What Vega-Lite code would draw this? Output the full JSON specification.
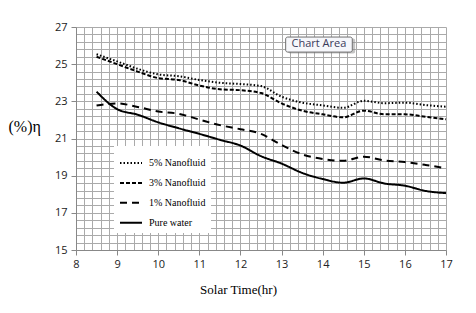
{
  "$schema": "https://vega.github.io/schema/vega-lite/v6.json",
  "width": 370,
  "height": 223,
  "autosize": {"type": "none"},
  "padding": {"left": 76, "top": 27, "right": 30, "bottom": 63},
  "background": "white",
  "config": {"view": {"stroke": null}},
  "resolve": {"axis": {"x": "independent", "y": "independent"}, "scale": {"x": "shared", "y": "shared"}},
  "datasets": {
    "lines": [
      {"t": 8.5, "eta": 25.53, "series": "5% Nanofluid"},
      {"t": 9, "eta": 25.15, "series": "5% Nanofluid"},
      {"t": 9.5, "eta": 24.75, "series": "5% Nanofluid"},
      {"t": 10, "eta": 24.45, "series": "5% Nanofluid"},
      {"t": 10.5, "eta": 24.35, "series": "5% Nanofluid"},
      {"t": 11, "eta": 24.15, "series": "5% Nanofluid"},
      {"t": 11.5, "eta": 24.0, "series": "5% Nanofluid"},
      {"t": 12, "eta": 23.93, "series": "5% Nanofluid"},
      {"t": 12.5, "eta": 23.82, "series": "5% Nanofluid"},
      {"t": 13, "eta": 23.25, "series": "5% Nanofluid"},
      {"t": 13.5, "eta": 22.93, "series": "5% Nanofluid"},
      {"t": 14, "eta": 22.78, "series": "5% Nanofluid"},
      {"t": 14.5, "eta": 22.65, "series": "5% Nanofluid"},
      {"t": 15, "eta": 23.03, "series": "5% Nanofluid"},
      {"t": 15.5, "eta": 22.9, "series": "5% Nanofluid"},
      {"t": 16, "eta": 22.93, "series": "5% Nanofluid"},
      {"t": 16.5, "eta": 22.8, "series": "5% Nanofluid"},
      {"t": 17, "eta": 22.71, "series": "5% Nanofluid"},

      {"t": 8.5, "eta": 25.4, "series": "3% Nanofluid"},
      {"t": 9, "eta": 25.0, "series": "3% Nanofluid"},
      {"t": 9.5, "eta": 24.6, "series": "3% Nanofluid"},
      {"t": 10, "eta": 24.25, "series": "3% Nanofluid"},
      {"t": 10.5, "eta": 24.15, "series": "3% Nanofluid"},
      {"t": 11, "eta": 23.85, "series": "3% Nanofluid"},
      {"t": 11.5, "eta": 23.65, "series": "3% Nanofluid"},
      {"t": 12, "eta": 23.6, "series": "3% Nanofluid"},
      {"t": 12.5, "eta": 23.45, "series": "3% Nanofluid"},
      {"t": 13, "eta": 22.89, "series": "3% Nanofluid"},
      {"t": 13.5, "eta": 22.5, "series": "3% Nanofluid"},
      {"t": 14, "eta": 22.3, "series": "3% Nanofluid"},
      {"t": 14.5, "eta": 22.14, "series": "3% Nanofluid"},
      {"t": 15, "eta": 22.5, "series": "3% Nanofluid"},
      {"t": 15.5, "eta": 22.3, "series": "3% Nanofluid"},
      {"t": 16, "eta": 22.3, "series": "3% Nanofluid"},
      {"t": 16.5, "eta": 22.17, "series": "3% Nanofluid"},
      {"t": 17, "eta": 22.03, "series": "3% Nanofluid"},

      {"t": 8.5, "eta": 22.77, "series": "1% Nanofluid"},
      {"t": 9, "eta": 22.89, "series": "1% Nanofluid"},
      {"t": 9.5, "eta": 22.7, "series": "1% Nanofluid"},
      {"t": 10, "eta": 22.45, "series": "1% Nanofluid"},
      {"t": 10.5, "eta": 22.33, "series": "1% Nanofluid"},
      {"t": 11, "eta": 22.02, "series": "1% Nanofluid"},
      {"t": 11.5, "eta": 21.72, "series": "1% Nanofluid"},
      {"t": 12, "eta": 21.5, "series": "1% Nanofluid"},
      {"t": 12.5, "eta": 21.25, "series": "1% Nanofluid"},
      {"t": 13, "eta": 20.65, "series": "1% Nanofluid"},
      {"t": 13.5, "eta": 20.15, "series": "1% Nanofluid"},
      {"t": 14, "eta": 19.9, "series": "1% Nanofluid"},
      {"t": 14.5, "eta": 19.8, "series": "1% Nanofluid"},
      {"t": 15, "eta": 20.02, "series": "1% Nanofluid"},
      {"t": 15.5, "eta": 19.82, "series": "1% Nanofluid"},
      {"t": 16, "eta": 19.73, "series": "1% Nanofluid"},
      {"t": 16.5, "eta": 19.58, "series": "1% Nanofluid"},
      {"t": 17, "eta": 19.4, "series": "1% Nanofluid"},

      {"t": 8.5, "eta": 23.52, "series": "Pure water"},
      {"t": 9, "eta": 22.58, "series": "Pure water"},
      {"t": 9.5, "eta": 22.28, "series": "Pure water"},
      {"t": 10, "eta": 21.87, "series": "Pure water"},
      {"t": 10.5, "eta": 21.55, "series": "Pure water"},
      {"t": 11, "eta": 21.25, "series": "Pure water"},
      {"t": 11.5, "eta": 20.93, "series": "Pure water"},
      {"t": 12, "eta": 20.62, "series": "Pure water"},
      {"t": 12.5, "eta": 20.05, "series": "Pure water"},
      {"t": 13, "eta": 19.65, "series": "Pure water"},
      {"t": 13.5, "eta": 19.15, "series": "Pure water"},
      {"t": 14, "eta": 18.82, "series": "Pure water"},
      {"t": 14.5, "eta": 18.62, "series": "Pure water"},
      {"t": 15, "eta": 18.85, "series": "Pure water"},
      {"t": 15.5, "eta": 18.58, "series": "Pure water"},
      {"t": 16, "eta": 18.46, "series": "Pure water"},
      {"t": 16.5, "eta": 18.18, "series": "Pure water"},
      {"t": 17, "eta": 18.06, "series": "Pure water"}
    ],
    "annot": [{"label": "Chart Area"}]
  },
  "layer": [
    {
      "data": {"name": "lines"},
      "mark": {"type": "line", "interpolate": "monotone", "strokeWidth": 2, "color": "black"},
      "encoding": {
        "x": {
          "field": "t", "type": "quantitative",
          "scale": {"domain": [8, 17], "nice": false, "zero": false},
          "axis": {
            "title": "Solar Time(hr)",
            "titleFont": "Liberation Serif", "titleFontSize": 13, "titleFontWeight": "normal", "titleColor": "black",
            "titleX": 162, "titleY": 39, "titleAlign": "center", "titleBaseline": "middle",
            "values": [8, 8.2, 8.4, 8.6, 8.8, 9, 9.2, 9.4, 9.6, 9.8, 10, 10.2, 10.4, 10.6, 10.8, 11, 11.2, 11.4, 11.6, 11.8, 12, 12.2, 12.4, 12.6, 12.8, 13, 13.2, 13.4, 13.6, 13.8, 14, 14.2, 14.4, 14.6, 14.8, 15, 15.2, 15.4, 15.6, 15.8, 16, 16.2, 16.4, 16.6, 16.8, 17],
            "labelExpr": "abs(datum.value - round(datum.value)) < 0.01 ? '' + round(datum.value) : ''",
            "labelFont": "Open Sans", "labelFontSize": 11, "labelColor": "#222", "labelPadding": 3,
            "labelOverlap": false, "labelBound": false,
            "tickOpacity": {"condition": {"test": "abs(datum.value - round(datum.value)) < 0.01", "value": 1}, "value": 0},
            "tickSize": 5, "tickColor": "#888",
            "grid": true, "gridColor": "#aaaaaa", "gridWidth": 1,
            "domainColor": "#888", "labelFlush": false
          }
        },
        "y": {
          "field": "eta", "type": "quantitative",
          "scale": {"domain": [15, 27], "nice": false, "zero": false},
          "axis": {
            "title": "(%)η",
            "titleFont": "Liberation Serif", "titleFontSize": 16, "titleFontWeight": "normal", "titleColor": "black",
            "titleAngle": 0, "titleX": -68, "titleY": 99, "titleAlign": "left", "titleBaseline": "middle",
            "values": [15, 15.4, 15.8, 16.2, 16.6, 17, 17.4, 17.8, 18.2, 18.6, 19, 19.4, 19.8, 20.2, 20.6, 21, 21.4, 21.8, 22.2, 22.6, 23, 23.4, 23.8, 24.2, 24.6, 25, 25.4, 25.8, 26.2, 26.6, 27],
            "labelExpr": "(abs(datum.value - round(datum.value)) < 0.01 && round(datum.value) % 2 == 1) ? '' + round(datum.value) : ''",
            "labelFont": "Open Sans", "labelFontSize": 11, "labelColor": "#222", "labelPadding": 4,
            "labelOverlap": false, "labelBound": false,
            "tickOpacity": {"condition": {"test": "abs(datum.value - round(datum.value)) < 0.01 && round(datum.value) % 2 == 1", "value": 1}, "value": 0},
            "tickSize": 5, "tickColor": "#888",
            "grid": true, "gridColor": "#aaaaaa", "gridWidth": 1,
            "domainColor": "#888", "labelFlush": false
          }
        },
        "detail": {"field": "series"},
        "strokeDash": {
          "field": "series", "type": "nominal",
          "scale": {
            "domain": ["5% Nanofluid", "3% Nanofluid", "1% Nanofluid", "Pure water"],
            "range": [[1.5, 2], [4, 2], [7, 5], [1, 0]]
          },
          "legend": {
            "title": null, "orient": "none", "legendX": 38, "legendY": 119,
            "fillColor": "white", "padding": 5, "strokeColor": null,
            "symbolType": "stroke", "symbolSize": 484, "symbolStrokeWidth": 2, "symbolStrokeColor": "black",
            "labelFont": "Liberation Serif", "labelFontSize": 10, "labelColor": "black",
            "rowPadding": 2.9, "labelOffset": 6
          }
        }
      }
    },
    {
      "data": {"name": "annot"},
      "mark": {"type": "rect", "fill": "#8a8a8a", "opacity": 0.5, "cornerRadius": 2},
      "encoding": {
        "x": {"datum": 13.16, "type": "quantitative", "axis": null},
        "x2": {"datum": 14.79},
        "y": {"datum": 26.38, "type": "quantitative", "axis": null},
        "y2": {"datum": 25.57}
      }
    },
    {
      "data": {"name": "annot"},
      "mark": {"type": "rect", "fill": "#f6f7fb", "stroke": "#6f6f6f", "strokeWidth": 1, "cornerRadius": 2},
      "encoding": {
        "x": {"datum": 13.1, "type": "quantitative", "axis": null},
        "x2": {"datum": 14.72},
        "y": {"datum": 26.46, "type": "quantitative", "axis": null},
        "y2": {"datum": 25.65}
      }
    },
    {
      "data": {"name": "annot"},
      "mark": {"type": "text", "font": "Open Sans", "fontSize": 11, "color": "#3a3a5a", "align": "center", "baseline": "middle"},
      "encoding": {
        "x": {"datum": 13.91, "type": "quantitative", "axis": null},
        "y": {"datum": 26.06, "type": "quantitative", "axis": null},
        "text": {"field": "label"}
      }
    }
  ]
}
